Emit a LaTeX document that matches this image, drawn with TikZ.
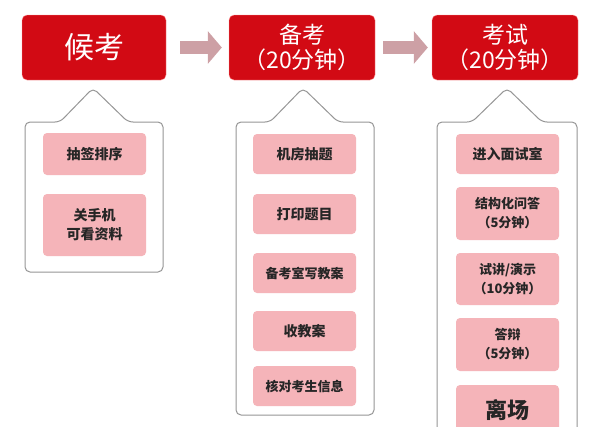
\documentclass[tikz,border=0pt]{standalone}
\usepackage{fontspec}
\newfontfamily\cjk{Noto Sans CJK SC}
\usetikzlibrary{arrows.meta}
\definecolor{headred}{RGB}{210,10,20}
\definecolor{stepfill}{RGB}{245,180,185}
\definecolor{arrowgray}{RGB}{205,160,165}
\definecolor{framegray}{RGB}{150,150,150}
\tikzset{
  head/.style={fill=headred, draw=red!40, rounded corners=5pt, text=white, align=center, font=\cjk, inner sep=0pt},
  stepbox/.style={fill=stepfill, rounded corners=4pt, text=black!85, align=center, font=\cjk\bfseries\fontsize{14}{19}\selectfont, inner sep=0pt},
  callout/.style={draw=framegray, line width=1pt, rounded corners=5pt, fill=white},
  flow/.style={arrowgray, line width=13pt, -{Triangle[length=14pt,width=32pt]}}
}
\begin{document}
\begin{tikzpicture}[x=1pt,y=-1pt]
	\useasboundingbox (0,0) rectangle (600,426);
	
	% headers
	\node[head, minimum width=144pt, minimum height=65pt, font=\cjk\fontsize{30}{32}\selectfont] (hou) at (94,47.5) {候考};
	\node[head, minimum width=146pt, minimum height=65pt, font=\cjk\fontsize{23}{25}\selectfont] (bei) at (302,47.5) {备考\\（20分钟）};
	\node[head, minimum width=146pt, minimum height=65pt, font=\cjk\fontsize{23}{25}\selectfont] (kao) at (505,47.5) {考试\\（20分钟）};
	
	\draw[flow, shorten <=14pt, shorten >=7pt] (hou.east) -- (bei.west);
	\draw[flow, shorten <=8pt, shorten >=4pt] (bei.east) -- (kao.west);
	
	% callouts
	\draw[callout] (25,122)--(60,122)--(93,88)--(128,122)--(163,122)--(163,272)--(25,272)--cycle;
	\draw[callout] (236,122)--(270,122)--(303,88)--(338,122)--(374,122)--(374,415)--(236,415)--cycle;
	\draw[callout] (437,122)--(472,122)--(507,88)--(542,122)--(577,122)--(577,440)--(437,440)--cycle;
	
	% steps
	\node[stepbox, minimum width=103pt, minimum height=42pt] (chou) at (94.5,154) {抽签排序};
	\node[stepbox, minimum width=103pt, minimum height=62pt] (guan) at (94.5,225) {关手机\\可看资料};
	
	\node[stepbox, minimum width=103pt, minimum height=40pt] (jifang) at (304.5,154) {机房抽题};
	\node[stepbox, minimum width=103pt, minimum height=40pt] (dayin) at (304.5,214) {打印题目};
	\node[stepbox, minimum width=103pt, minimum height=40pt, font=\cjk\bfseries\fontsize{13}{16}\selectfont] (xie) at (304.5,273) {备考室写教案};
	\node[stepbox, minimum width=103pt, minimum height=40pt] (shou) at (304.5,331) {收教案};
	\node[stepbox, minimum width=103pt, minimum height=40pt, font=\cjk\bfseries\fontsize{13}{16}\selectfont] (hedui) at (304.5,386) {核对考生信息};
	
	\node[stepbox, minimum width=103pt, minimum height=40pt] (jinru) at (507.5,154) {进入面试室};
	\node[stepbox, minimum width=103pt, minimum height=53pt, font=\cjk\bfseries\fontsize{13}{19}\selectfont] (jiegou) at (507.5,213.5) {结构化问答\\（5分钟）};
	\node[stepbox, minimum width=103pt, minimum height=52pt, font=\cjk\bfseries\fontsize{13}{19}\selectfont] (shijiang) at (507.5,279) {试讲/演示\\（10分钟）};
	\node[stepbox, minimum width=103pt, minimum height=53pt, font=\cjk\bfseries\fontsize{13}{19}\selectfont] (dabian) at (507.5,344.5) {答辩\\（5分钟）};
	\node[stepbox, minimum width=103pt, minimum height=50pt, font=\cjk\bfseries\fontsize{22}{24}\selectfont] (lichang) at (507.5,410) {离场};
\end{tikzpicture}
\end{document}
